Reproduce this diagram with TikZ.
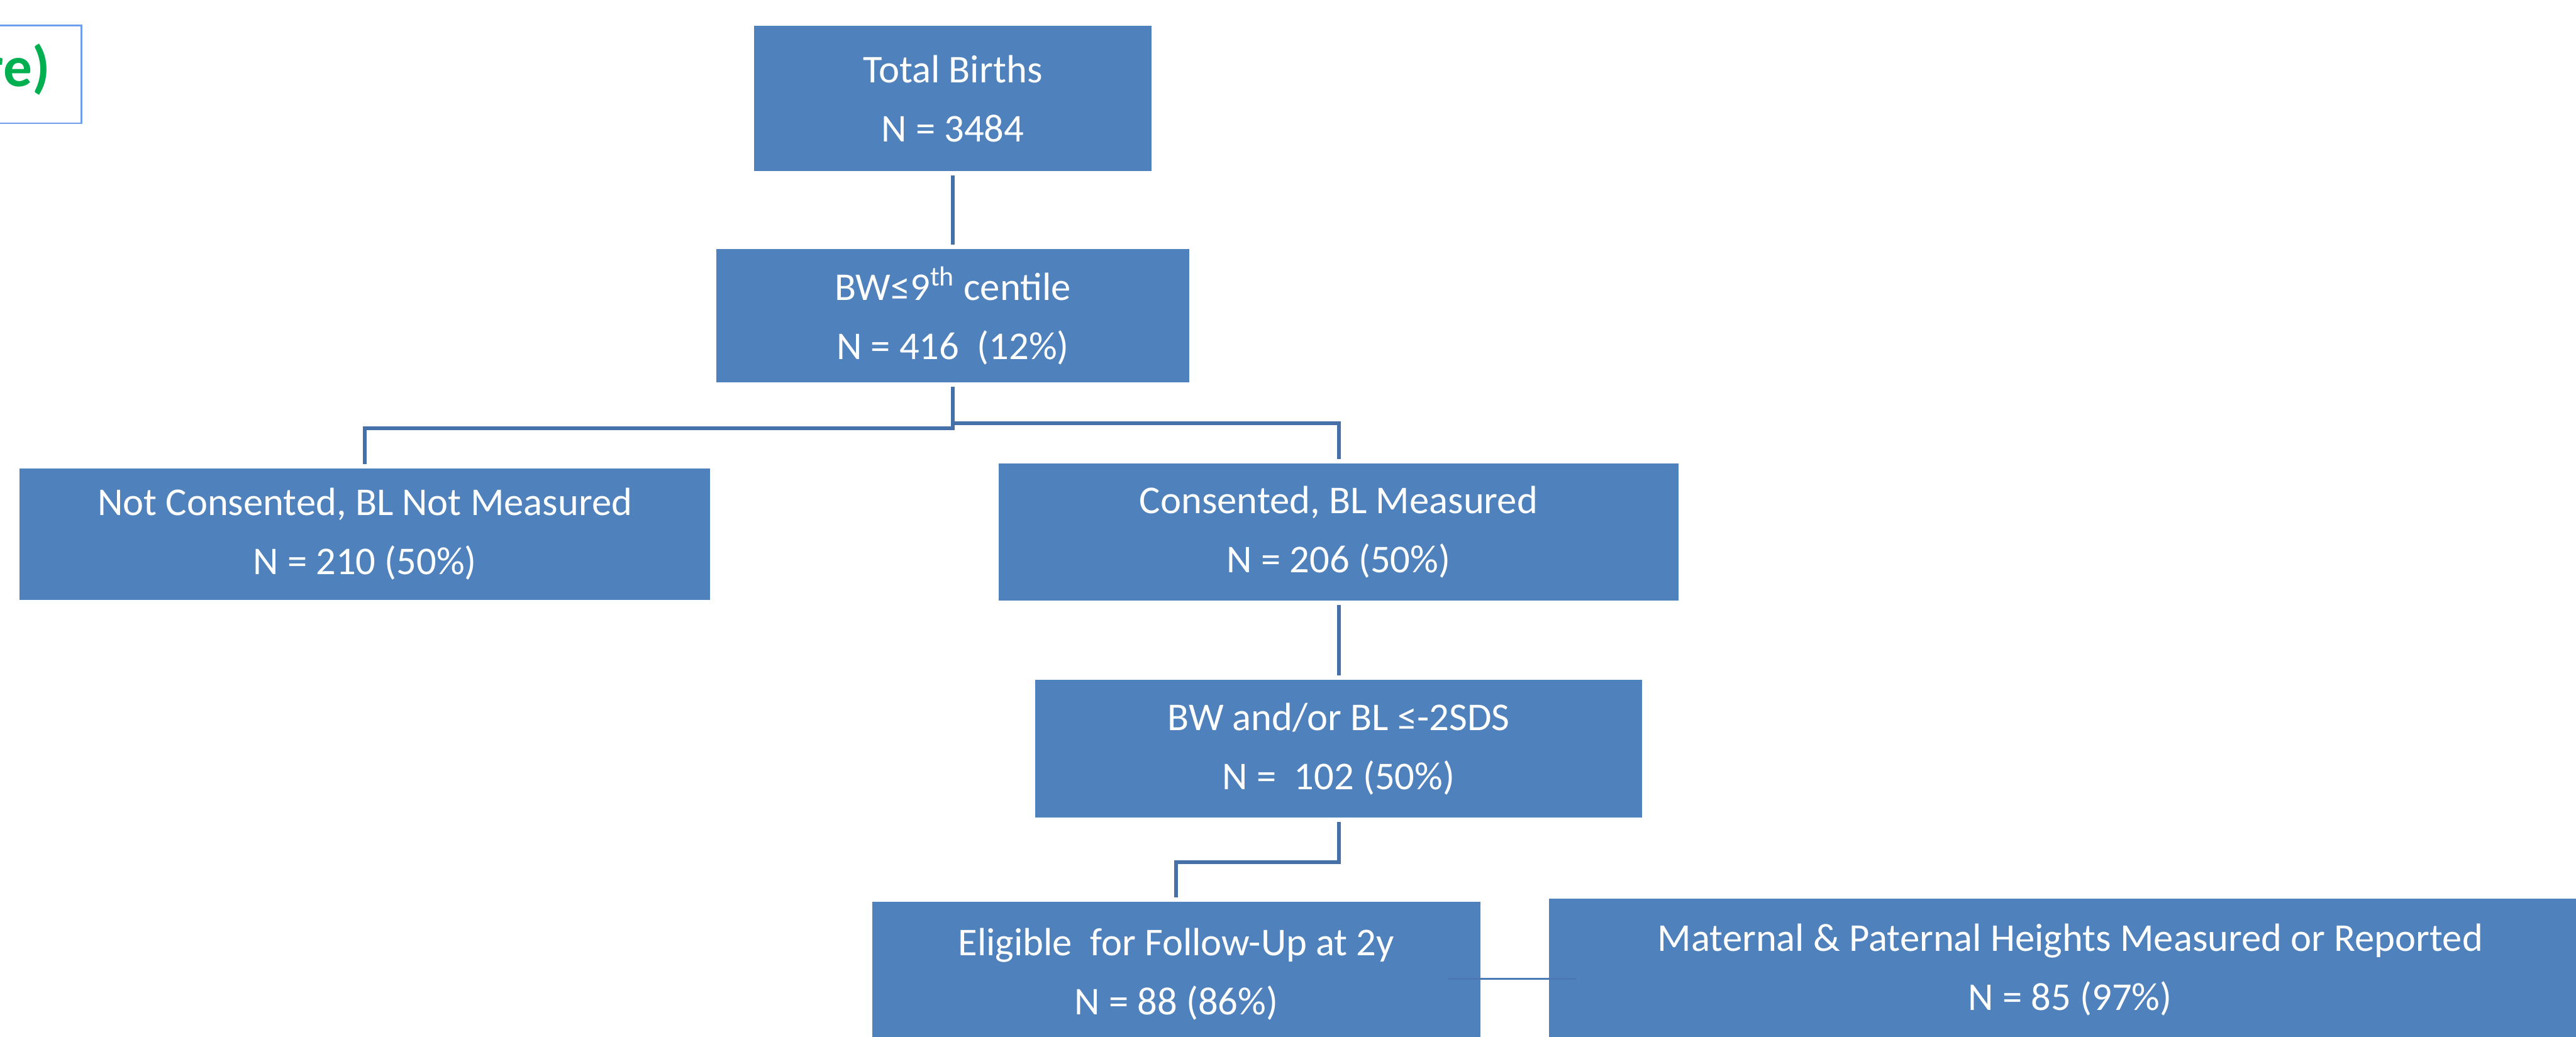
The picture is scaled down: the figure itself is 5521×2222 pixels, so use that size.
\documentclass[tikz,border=0pt]{standalone}
\usepackage{fontspec}
\setmainfont{Carlito}
\definecolor{boxblue}{HTML}{4F81BD}
\definecolor{linkblue}{HTML}{4570A8}
\definecolor{thinblue}{HTML}{4B79B4}
\definecolor{titlegreen}{HTML}{00B050}
\definecolor{frameblue}{HTML}{6D9EEB}
\begin{document}
\begin{tikzpicture}[x=0.01cm,y=-0.01cm,
  flowbox/.style={fill=boxblue, draw=none, text=white, align=center, inner sep=0pt,
    font=\fontsize{24}{36}\selectfont},
  link/.style={draw=linkblue, line width=2.3pt, shorten <=0.09cm, shorten >=0.09cm},
  thinlink/.style={draw=thinblue, line width=0.85pt},
  ]
\useasboundingbox (0,0) rectangle (5521,2222);
\clip (0,0) rectangle (5521,2222);
\fill[white] (0,0) rectangle (5521,2222);

% partial title box at top left
\node[draw=frameblue, line width=0.03cm, inner sep=0pt, minimum width=3cm, minimum height=2.1cm, anchor=north east] (titlebox) at (176,53) {};
\node[anchor=base east, inner sep=0pt, text=titlegreen, font=\bfseries\fontsize{35}{40}\selectfont] (title) at (108,185) {re)};

% boxes
\node[flowbox, minimum width=8.52cm, minimum height=3.10cm] (tb) at (2042,211) {Total Births\\N = 3484};
\node[flowbox, minimum width=10.14cm, minimum height=2.85cm] (bw) at (2042,677) {BW≤9\textsuperscript{th} centile\\N = 416 \ (12\%)};
\node[flowbox, minimum width=14.80cm, minimum height=2.82cm] (nc) at (782,1145) {Not Consented, BL Not Measured\\N = 210 (50\%)};
\node[flowbox, minimum width=14.56cm, minimum height=2.93cm] (cs) at (2869,1140) {Consented, BL Measured\\N = 206 (50\%)};
\node[flowbox, minimum width=13.00cm, minimum height=2.95cm] (bd) at (2869,1605) {BW and/or BL ≤-2SDS\\N = \ 102 (50\%)};
\node[flowbox, minimum width=13.03cm, minimum height=3.10cm] (el) at (2521,2088) {Eligible \ for Follow-Up at 2y\\N = 88 (86\%)};
\node[flowbox, minimum width=22.32cm, minimum height=3.06cm] (mt) at (4437,2079) {Maternal \& Paternal Heights Measured or Reported\\N = 85 (97\%)};

% connectors
\draw[link] (tb.south) -- (bw.north);
\draw[link] (bw.south) -- ++(0,97) -| (nc.north);
\draw[link] (bw.south) -- ++(0,87) -| (cs.north);
\draw[link] (cs.south) -- (bd.north);
\draw[link] (bd.south) -- ++(0,94) -| (el.north);
\draw[thinlink] ([shift={(-71,10)}]el.east) -- ([shift={(60,19)}]mt.west);
\end{tikzpicture}
\end{document}
